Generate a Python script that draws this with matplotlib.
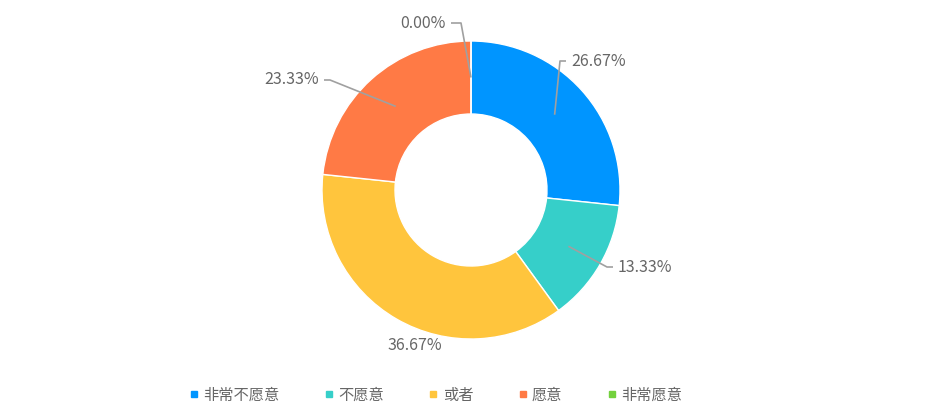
import matplotlib.pyplot as plt
import numpy as np
from matplotlib.lines import Line2D

plt.rcParams["font.family"] = ["Noto Sans CJK SC", "DejaVu Sans"]

categories = ["非常不愿意", "不愿意", "或者", "愿意", "非常愿意"]
shares = [26.67, 13.33, 36.67, 23.33, 0.00]
colors = ["#0095ff", "#36cfc9", "#ffc53d", "#ff7a45", "#73d13d"]

W, H = 942, 418
cx, cy = 471, H - 190
r_out, r_in = 149, 76
text_color = "#666666"

fig = plt.figure(figsize=(W / 100, H / 100), dpi=100)
ax = fig.add_axes([0, 0, 1, 1])
ax.set_xlim(0, W)
ax.set_ylim(0, H)
ax.set_aspect("equal")
ax.axis("off")

ax.pie(
    shares,
    colors=colors,
    center=(cx, cy),
    radius=r_out,
    startangle=90,
    counterclock=False,
    wedgeprops={"width": r_out - r_in, "edgecolor": "white", "linewidth": 1},
    frame=True,
)
ax.set_xlim(0, W)
ax.set_ylim(0, H)
ax.axis("off")

# label layout: elbow point (pixels from top-left), end of horizontal tick, text side
label_layout = {
    "非常不愿意": ((560, 61), 566, "left"),
    "不愿意": ((607, 267), 613, "left"),
    "或者": (None, None, "center"),
    "愿意": ((330, 80), 324, "right"),
    "非常愿意": ((461, 23), 451, "right"),
}

cum = np.cumsum([0] + shares[:-1])
r_mid = (r_out + r_in) / 2
for cat, s, c0 in zip(categories, shares, cum):
    ang = np.deg2rad((c0 + s / 2) / 100 * 360)
    ax_x = cx + r_mid * np.sin(ang)
    ax_y = cy + r_mid * np.cos(ang)
    elbow, tick_end, side = label_layout[cat]
    txt = f"{s:.2f}%"
    if elbow is None:
        ax.text(415, H - 345, txt, ha="center", va="center",
                fontsize=11.5, color=text_color)
        continue
    ex, ey = elbow[0], H - elbow[1]
    ax.plot([ax_x, ex, tick_end], [ax_y, ey, ey], color="#a0a0a0", lw=1.2,
            solid_capstyle="butt")
    off = 5 if side == "left" else -5
    ax.text(tick_end + off, ey, txt, ha=side, va="center",
            fontsize=11.5, color=text_color)

handles = [
    Line2D([], [], marker="s", linestyle="none", markersize=5,
           markerfacecolor=c, markeredgecolor=c)
    for c in colors
]
fig.legend(
    handles,
    categories,
    loc="center",
    bbox_to_anchor=(0.463, 0.055),
    ncol=5,
    frameon=False,
    fontsize=11,
    labelcolor=text_color,
    handlelength=0.5,
    handletextpad=0.35,
    columnspacing=3.0,
)

plt.savefig("out.png", dpi=100)
plt.close()
